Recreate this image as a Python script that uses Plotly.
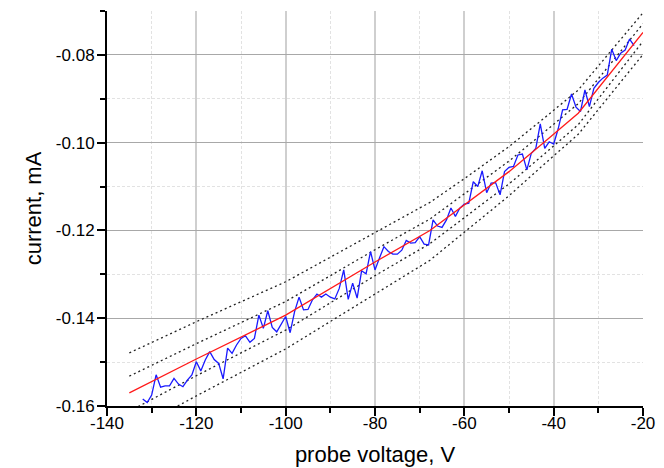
import plotly.graph_objects as go

# Measured probe characteristic: voltage (V) and current (mA)
probe_v = list(range(-132, -21))
probe_i = [
    -0.1584, -0.1592, -0.1575, -0.1529, -0.1557, -0.1554, -0.1554, -0.1537, -0.1550, -0.1556,
    -0.1541, -0.1529, -0.1499, -0.1520, -0.1495, -0.1476, -0.1494, -0.1503, -0.1538, -0.1468,
    -0.1480, -0.1461, -0.1446, -0.1440, -0.1455, -0.1446, -0.1393, -0.1423, -0.1383, -0.1421,
    -0.1431, -0.1415, -0.1396, -0.1433, -0.1385, -0.1352, -0.1381, -0.1380, -0.1358, -0.1345,
    -0.1352, -0.1345, -0.1352, -0.1356, -0.1332, -0.1290, -0.1357, -0.1320, -0.1354, -0.1292,
    -0.1299, -0.1248, -0.1290, -0.1263, -0.1237, -0.1248, -0.1254, -0.1254, -0.1245, -0.1223,
    -0.1229, -0.1228, -0.1214, -0.1231, -0.1233, -0.1176, -0.1190, -0.1193, -0.1176, -0.1149,
    -0.1168, -0.1149, -0.1140, -0.1138, -0.1089, -0.1100, -0.1064, -0.1114, -0.1092, -0.1091,
    -0.1119, -0.1066, -0.1056, -0.1054, -0.1028, -0.1026, -0.1062, -0.1024, -0.1013, -0.0957,
    -0.1013, -0.0998, -0.1003, -0.0969, -0.0925, -0.0924, -0.0889, -0.0919, -0.0929, -0.0880,
    -0.0918, -0.0876, -0.0863, -0.0853, -0.0846, -0.0787, -0.0813, -0.0796, -0.0789, -0.0764,
    -0.0779,
]

# Fitted curve and its confidence / prediction bands
fit_v = [-135, -120, -100, -80, -67.7, -60, -50, -42, -34.5, -20]
fit_i = [-0.1570, -0.1493, -0.1393, -0.1272, -0.1200, -0.1142, -0.1066, -0.0998, -0.0933, -0.0749]
pred_upper = [-0.1479, -0.1408, -0.1317, -0.1204, -0.1136, -0.1082, -0.1009, -0.0943, -0.0880, -0.0704]
conf_upper = [-0.1532, -0.1458, -0.1362, -0.1244, -0.1174, -0.1117, -0.1042, -0.0975, -0.0911, -0.0729]
conf_lower = [-0.1612, -0.1531, -0.1427, -0.1303, -0.1230, -0.1171, -0.1094, -0.1025, -0.0959, -0.0769]
pred_lower = [-0.1660, -0.1577, -0.1470, -0.1344, -0.1268, -0.1204, -0.1121, -0.1048, -0.0981, -0.0799]

# Axis ticks
x_ticks = [-140, -120, -100, -80, -60, -40, -20]
x_labels = ["-140", "-120", "-100", "-80", "-60", "-40", "-20"]
y_ticks = [-0.16, -0.14, -0.12, -0.10, -0.08]
y_labels = ["-0.16", "-0.14", "-0.12", "-0.10", "-0.08"]

FONT = "Liberation Sans, Arial, sans-serif"
dotted = dict(color="#222222", width=1.3, dash="2px,3px")

fig = go.Figure()
for band in (pred_upper, conf_upper, conf_lower, pred_lower):
    fig.add_trace(go.Scatter(x=fit_v, y=band, mode="lines", line=dotted,
                             hoverinfo="skip", showlegend=False))
fig.add_trace(go.Scatter(x=probe_v, y=probe_i, mode="lines",
                         line=dict(color="#1a1aff", width=1.3), showlegend=False))
fig.add_trace(go.Scatter(x=fit_v, y=fit_i, mode="lines",
                         line=dict(color="#ff1a1a", width=1.3), showlegend=False))

fig.update_layout(
    width=664, height=468,
    margin=dict(l=107, r=21, t=11, b=62),
    paper_bgcolor="white", plot_bgcolor="white",
    font=dict(family=FONT, color="black", size=17),
    showlegend=False,
)
fig.update_xaxes(
    range=[-140, -20],
    automargin=False,
    tickmode="array", tickvals=x_ticks, ticktext=x_labels,
    ticks="outside", ticklen=8, tickwidth=1.5, tickcolor="black",
    ticklabelstandoff=-7,
    showline=True, linecolor="black", linewidth=2,
    showgrid=True, gridcolor="#cfcfcf", gridwidth=2,
    zeroline=False,
    minor=dict(tickmode="linear", tick0=-140, dtick=10, ticks="outside", ticklen=5,
               tickcolor="black", showgrid=True, gridcolor="#e2e2e2",
               griddash="3px,2px", gridwidth=1),
    title=dict(text="probe voltage, V", font=dict(size=22), standoff=14),
    tickfont=dict(size=17),
)
fig.update_yaxes(
    range=[-0.16, -0.07],
    automargin=False,
    tickmode="array", tickvals=y_ticks, ticktext=y_labels,
    ticks="outside", ticklen=8, tickwidth=1.5, tickcolor="black",
    ticklabelstandoff=-1,
    showline=True, linecolor="black", linewidth=2,
    showgrid=True, gridcolor="#a8a8a8", gridwidth=1,
    zeroline=False,
    minor=dict(tickmode="linear", tick0=-0.16, dtick=0.01, ticks="outside", ticklen=5,
               tickcolor="black", showgrid=True, gridcolor="#e2e2e2",
               griddash="3px,2px", gridwidth=1),
    title=dict(text="current, mA", font=dict(size=22), standoff=8),
    tickfont=dict(size=17),
)

fig.write_html("out.html")
